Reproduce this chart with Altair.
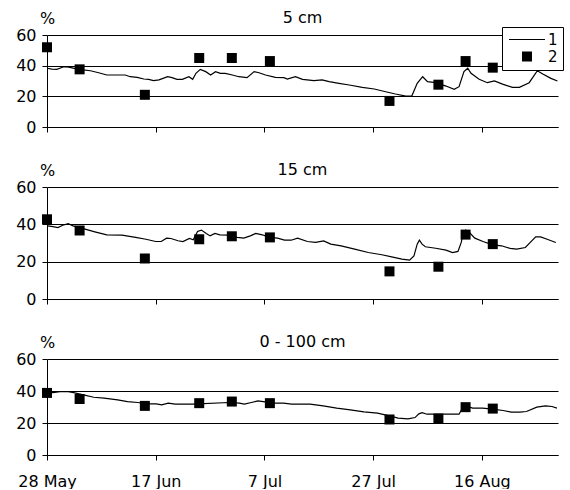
import json
import altair as alt
import pandas as pd

FONT = "DejaVu Sans"

# x axis: day offset from 28 May
tick_days = [0, 20, 40, 60, 80]
tick_labels = ["28 May", "17 Jun", "7 Jul", "27 Jul", "16 Aug"]
y_ticks = [0, 20, 40, 60]
panel_titles = ["5 cm", "15 cm", "0 - 100 cm"]
series_names = ["1", "2"]

# measured values (series 2)
sample_days = [0, 6, 18, 28, 34, 41, 63, 72, 77, 82]
obs_5 = [52, 37.6, 21, 45, 45, 43, 17, 27.6, 43, 38.7]
obs_15 = [42.7, 36.7, 21.7, 32, 33.6, 33, 14.8, 17.3, 34.5, 29.4]
obs_100 = [38.8, 35, 30.7, 32.4, 33.4, 32.4, 22.2, 22.8, 29.9, 29]

# simulated values (series 1)
line5_days = [0, 0.9, 1.8, 3.1, 4.0, 5.8, 8.0, 9.5, 11.0, 14.4, 15.3, 16.6, 17.8, 18.7, 19.6,
              20.6, 22.2, 23.0, 23.9, 24.9, 26.1, 26.8, 27.4, 28.2, 29.2, 30.1, 31.0, 31.9, 32.8, 34.1,
              35.3, 36.8, 38.1, 39.0, 40.2, 42.0, 43.6, 44.2, 45.7, 47.0, 49.1, 50.6, 51.9, 53.7, 55.6,
              58.0, 60.2, 62.3, 64.1, 66.0, 67.1, 68.1, 69.1, 70.0, 71.5, 73.4, 74.9, 75.8, 76.7, 77.4,
              78.0, 79.5, 81.0, 82.3, 83.8, 85.6, 86.9, 88.7, 90.2, 91.2, 92.7, 93.9]
line5_vals = [38.3, 37.8, 37.6, 39.3, 39.1, 37.6, 36.7, 35.4, 33.9, 33.9, 32.8, 32.4, 31.3, 31.1, 30.2,
              30.7, 32.8, 32.2, 31.1, 31.1, 32.8, 31.1, 35.0, 37.6, 36.1, 33.9, 36.1, 35.0, 35.0, 33.9,
              32.8, 32.2, 36.1, 35.4, 33.9, 32.4, 32.2, 31.3, 32.8, 31.1, 30.2, 30.7, 29.6, 28.5, 27.4,
              25.9, 24.8, 23.0, 21.5, 20.2, 20.2, 28.5, 32.8, 29.6, 28.9, 26.7, 24.6, 26.3, 36.1, 38.3,
              35.0, 31.1, 28.9, 30.0, 28.0, 25.9, 25.9, 28.9, 36.7, 34.6, 31.7, 30.0]

line15_days = [0.1, 1.1, 2.0, 2.9, 3.9, 4.8, 7.0, 8.8, 11.0, 13.8, 16.3, 18.2, 20.0, 21.0, 22.0,
               22.8, 24.1, 25.0, 26.2, 26.9, 27.7, 28.4, 29.3, 30.0, 30.9, 31.8, 33.4, 35.0, 36.2, 37.4,
               38.4, 39.6, 40.9, 42.4, 43.7, 44.9, 46.1, 47.9, 49.4, 50.9, 52.2, 54.1, 56.6, 59.1, 61.6,
               63.4, 65.3, 66.7, 67.5, 68.1, 68.5, 69.0, 69.6, 71.5, 73.4, 74.6, 75.6, 76.2, 76.5, 77.0,
               77.7, 78.7, 80.2, 82.0, 83.6, 85.2, 86.4, 88.0, 88.9, 89.9, 90.8, 92.0, 93.6]
line15_vals = [39.2, 38.8, 38.3, 39.5, 40.4, 39.2, 37.4, 36.0, 34.4, 34.2, 33.0, 32.0, 30.8, 30.8, 32.6,
               32.4, 31.2, 30.8, 32.4, 31.7, 36.2, 36.9, 35.1, 33.8, 35.1, 34.4, 34.2, 33.0, 32.6, 33.8,
               35.1, 34.4, 33.0, 32.6, 31.5, 31.5, 32.6, 30.8, 30.3, 31.1, 29.4, 28.5, 26.7, 24.9, 23.7,
               22.6, 21.4, 20.8, 23.1, 29.4, 31.5, 29.4, 28.0, 27.2, 26.2, 24.9, 25.5, 30.3, 34.7, 36.9,
               35.6, 32.6, 30.8, 29.0, 28.5, 27.1, 26.7, 27.6, 30.3, 33.3, 33.3, 32.0, 30.3]

line100_days = [0, 1.1, 2.4, 3.9, 4.9, 6.7, 8.6, 10.5, 13.0, 14.8, 16.7, 18.6, 20.1, 21.1, 22.3,
                23.6, 26.7, 33.5, 35.4, 36.3, 37.6, 38.8, 40.1, 41.6, 43.5, 45.0, 47.1, 48.4, 50.8, 53.3,
                55.8, 58.3, 60.8, 63.0, 64.6, 66.4, 67.7, 68.4, 69.0, 69.9, 71.4, 72.7, 75.8, 76.4, 77.0,
                78.3, 80.1, 82.0, 83.9, 85.4, 87.0, 88.2, 90.1, 91.7, 92.9, 93.8]
line100_vals = [39.6, 39.0, 39.6, 39.6, 39.0, 37.6, 36.1, 35.5, 34.5, 33.4, 32.8, 32.0, 32.0, 31.3, 32.4,
                31.8, 31.8, 32.8, 32.4, 31.8, 32.8, 33.8, 33.2, 32.4, 32.4, 31.8, 31.8, 31.8, 30.7, 29.3,
                28.2, 27.0, 26.2, 24.5, 23.0, 22.6, 23.4, 25.7, 26.5, 25.5, 25.5, 25.5, 25.5, 29.3, 30.7,
                29.3, 29.3, 28.7, 27.8, 26.8, 26.8, 27.2, 29.9, 30.7, 30.3, 29.3]

X_DOMAIN = [0, 94]
PLOT_W = 511
label_expr = f"{json.dumps(tick_labels)}[indexof({json.dumps(tick_days)}, datum.value)]"

# legend symbol for the line series: a thin filled bar (36 x 1.2 px at size 100)
LINE_SYMBOL = "M-3.6,-0.12H3.6V0.12H-3.6Z"


def panel(title, ldays, lvals, obs, height, show_labels, with_legend):
    line_df = pd.DataFrame({"day": ldays, "value": lvals, "series": series_names[0]})
    pt_df = pd.DataFrame({"day": sample_days, "value": obs, "series": series_names[1]})

    x = alt.X("day:Q",
              scale=alt.Scale(domain=X_DOMAIN, nice=False, zero=False),
              axis=alt.Axis(values=tick_days, labelExpr=label_expr, labels=show_labels,
                            grid=False, tickSize=5, title=None, labelFlush=False,
                            labelOverlap=False, labelPadding=13, labelFontSize=16,
                            labelFont=FONT, labelColor="black",
                            domainColor="black", tickColor="black"))
    y = alt.Y("value:Q",
              scale=alt.Scale(domain=[0, 60], nice=False),
              axis=alt.Axis(values=y_ticks, grid=True, gridColor="black", gridOpacity=1,
                            domainColor="black", tickColor="black", tickSize=5,
                            labelFontSize=16, labelFont=FONT, labelColor="black", labelPadding=6,
                            title="%", titleAngle=0, titleX=0, titleY=-17, titleAlign="center",
                            titleBaseline="middle", titleFontSize=16, titleFont=FONT,
                            titleFontWeight="normal", titleColor="black"))

    line = alt.Chart(line_df).mark_line(color="black", strokeWidth=1.2).encode(x=x, y=y)

    if with_legend:
        pts = alt.Chart(pt_df).mark_point(filled=True, opacity=1, color="black", size=100).encode(
            x=x, y=y,
            shape=alt.Shape("series:N",
                            scale=alt.Scale(domain=series_names, range=[LINE_SYMBOL, "square"]),
                            legend=alt.Legend(title=None, orient="none", legendX=455, legendY=-8,
                                              strokeColor="black", fillColor="white", padding=5,
                                              symbolSize=100, symbolFillColor="black",
                                              symbolOffset=12.5, labelOffset=13.5, rowPadding=0,
                                              labelFontSize=15, labelFont=FONT, labelColor="black",
                                              cornerRadius=0)))
    else:
        pts = alt.Chart(pt_df).mark_point(filled=True, opacity=1, color="black", size=100,
                                          shape="square").encode(x=x, y=y)

    return alt.layer(line, pts).properties(
        width=PLOT_W, height=height,
        title=alt.TitleParams(title, fontSize=16, font=FONT, fontWeight="normal",
                              color="black", anchor="middle", offset=-16))


p1 = panel(panel_titles[0], line5_days, line5_vals, obs_5, 92, False, True)
p2 = panel(panel_titles[1], line15_days, line15_vals, obs_15, 112, False, False)
p3 = panel(panel_titles[2], line100_days, line100_vals, obs_100, 96, True, False)

chart = alt.vconcat(p1, p2, p3, spacing=27).properties(
    padding={"left": 15, "top": 10, "right": 0, "bottom": 0},
    background="white",
).configure_view(stroke=None)

chart.save("out.html", embed_options={"renderer": "svg", "actions": False})
